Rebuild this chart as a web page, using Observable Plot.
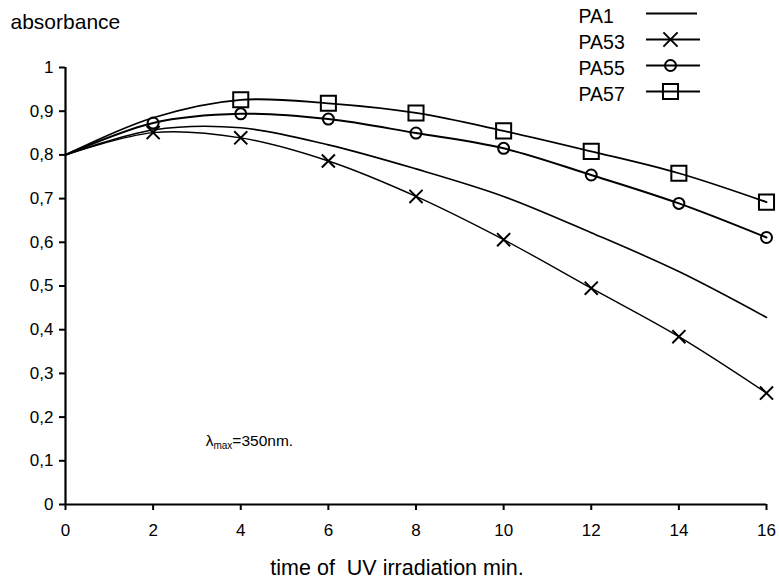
<!DOCTYPE html>
<html><head><meta charset="utf-8">
<script src="https://cdn.jsdelivr.net/npm/d3@7"></script>
<script src="https://cdn.jsdelivr.net/npm/@observablehq/plot@0.6"></script>
<style>
body{margin:0;background:#fff;}
#wrap{position:relative;width:779px;height:583px;overflow:hidden;}
#wrap svg{position:absolute;top:0;}
svg text{white-space:pre;}
</style></head><body><div id="wrap"></div>
<script>
// ---- data ----
const times = [0, 2, 4, 6, 8, 10, 12, 14, 16];
const pa1  = [0.800, 0.857, 0.862, 0.823, 0.768, 0.705, 0.622, 0.533, 0.428];
const pa53 = [0.800, 0.851, 0.839, 0.786, 0.705, 0.606, 0.495, 0.384, 0.255];
const pa55 = [0.800, 0.873, 0.894, 0.882, 0.850, 0.815, 0.754, 0.689, 0.611];
const pa57 = [0.800, 0.885, 0.926, 0.918, 0.896, 0.855, 0.808, 0.758, 0.692];
const seriesNames = ["PA1", "PA53", "PA55", "PA57"];
const seriesValues = [pa1, pa53, pa55, pa57];
const markedFrom = {PA53: 2, PA55: 2, PA57: 4}; // first time that carries a marker
const yTicks = [0, 0.1, 0.2, 0.3, 0.4, 0.5, 0.6, 0.7, 0.8, 0.9, 1];
const xTicks = [0, 2, 4, 6, 8, 10, 12, 14, 16];
const yTitle = "absorbance";
const xTitle = "time of  UV irradiation min.";
const note = "λmax=350nm.";

// ---- build table ----
const rows = seriesNames.flatMap((s, i) => times.map((t, j) => ({series: s, time: t, value: seriesValues[i][j]})));
const markerRows = rows.filter(d => d.series in markedFrom && d.time >= markedFrom[d.series]);

const font = "'Liberation Sans', Arial, sans-serif";
const lineWidths = {PA1: 1.6, PA53: 1.4, PA55: 2, PA57: 1.8};
const symbols = {PA53: ["times", 6], PA55: ["circle", 5.5], PA57: ["square", 8.5]};

const marks = [
  Plot.axisY(yTicks, {tickSize: 6, tickPadding: 6, tickFormat: d => String(d).replace(".", ","), label: null, fontSize: 17, strokeWidth: 2}),
  Plot.axisX(xTicks, {tickSize: 6, tickPadding: 13, label: null, fontSize: 17, strokeWidth: 2}),
  Plot.ruleX([0], {y1: 0, y2: 1, strokeWidth: 2.2}),
  Plot.ruleY([0], {x1: 0, x2: 16, strokeWidth: 2.2}),
];
for (const s of seriesNames) {
  marks.push(Plot.line(rows.filter(d => d.series === s), {x: "time", y: "value", curve: "catmull-rom", stroke: "#000", strokeWidth: lineWidths[s]}));
}
for (const s of Object.keys(symbols)) {
  marks.push(Plot.dot(markerRows.filter(d => d.series === s), {x: "time", y: "value", symbol: symbols[s][0], r: symbols[s][1], stroke: "#000", strokeWidth: 2, fill: "none"}));
}
marks.push(
  Plot.text([yTitle], {frameAnchor: "top-left", textAnchor: "start", lineAnchor: "bottom", dx: -55, dy: -39, fontSize: 21}),
  Plot.text([xTitle], {frameAnchor: "bottom", lineAnchor: "bottom", dx: -19, dy: 70, fontSize: 21.5}),
  Plot.text([note], {x: () => 3.2, y: () => 0.145, textAnchor: "start", fontSize: 15.5, className: "note"})
);

const chart = Plot.plot({
  width: 779, height: 583,
  marginLeft: 65, marginRight: 13, marginTop: 67, marginBottom: 79,
  x: {domain: [0, 16], axis: null},
  y: {domain: [0, 1], axis: null},
  style: {fontFamily: font, color: "#000", background: "#fff", overflow: "visible"},
  marks
});
chart.style.left = "0px";
document.getElementById("wrap").appendChild(chart);

// subscript "max" in the annotation (keeps the same text content)
d3.select(chart).selectAll("text").filter(function () { return this.textContent === note; }).each(function () {
  const t = d3.select(this);
  t.text(null);
  t.append("tspan").text("λ");
  t.append("tspan").attr("font-size", 10).attr("dy", 3).text("max");
  t.append("tspan").attr("dy", -3).text("=350nm.");
});

// ---- legend (top right) ----
const legendLeft = 560;
const legendSymbols = {PA53: ["times", 6.5], PA55: ["circle", 5.5], PA57: ["square", 8.5]};
const legendMarks = [
  Plot.text(seriesNames, {x: () => 578, y: d => d, textAnchor: "start", fontSize: 19.5}),
  Plot.ruleY(seriesNames, {y: d => d, x1: () => 646, x2: d => d === "PA1" ? 697 : 700, dy: -3, strokeWidth: 1.8})
];
for (const s of Object.keys(legendSymbols)) {
  legendMarks.push(Plot.dot([s], {x: () => 670, y: d => d, dy: -3, symbol: legendSymbols[s][0], r: legendSymbols[s][1], stroke: "#000", strokeWidth: 2, fill: "none"}));
}
const legend = Plot.plot({
  width: 779 - legendLeft, height: 120, margin: 0,
  x: {domain: [legendLeft, 779], range: [0, 779 - legendLeft], axis: null},
  y: {type: "point", domain: seriesNames, range: [16, 94], padding: 0, axis: null},
  style: {fontFamily: font, color: "#000", background: "transparent"},
  marks: legendMarks
});
legend.style.left = legendLeft + "px";
document.getElementById("wrap").appendChild(legend);
</script></body></html>
